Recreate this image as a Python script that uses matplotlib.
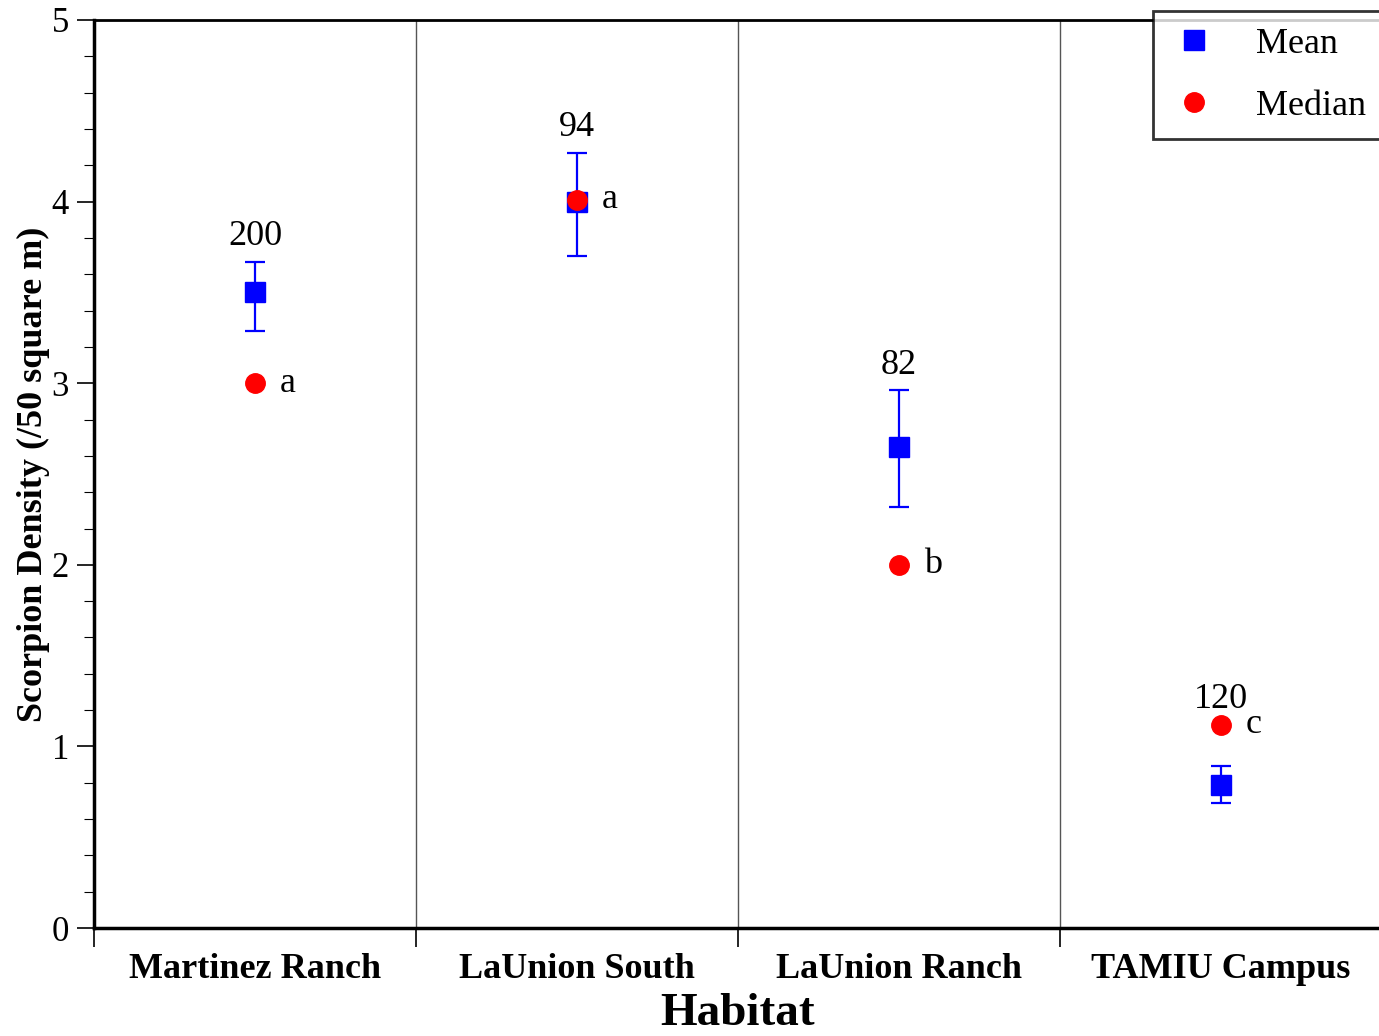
import matplotlib.pyplot as plt
from matplotlib.ticker import MultipleLocator
from matplotlib.lines import Line2D

habitats = ["Martinez Ranch", "LaUnion South", "LaUnion Ranch", "TAMIU Campus"]
means = [3.50, 4.00, 2.65, 0.79]
err_low = [3.29, 3.70, 2.32, 0.69]
err_high = [3.67, 4.27, 2.96, 0.89]
medians = [3.00, 4.01, 2.00, 1.12]
counts = ["200", "94", "82", "120"]
letters = ["a", "a", "b", "c"]

plt.rcParams['font.family'] = ['Liberation Serif', 'DejaVu Serif']

fig = plt.figure(figsize=(13.79, 10.36), dpi=100)
ax = fig.add_axes([0.0682, 0.1042, 0.9338, 0.8765])

x = list(range(len(habitats)))
yerr = [[m - lo for m, lo in zip(means, err_low)],
        [hi - m for m, hi in zip(means, err_high)]]

ax.errorbar(x, means, yerr=yerr, fmt='s', color='#0000ff', ecolor='#0000ff',
            markersize=14, elinewidth=1.6, capsize=7, capthick=1.6, zorder=3)
ax.plot(x, medians, 'o', color='#ff0000', markersize=14, zorder=4, linestyle='none')

for i in x:
    top = max(err_high[i], medians[i])
    ax.annotate(counts[i], (i, top), xytext=(0, 18), textcoords='offset points',
                ha='center', va='center', fontsize=26)
    ax.annotate(letters[i], (i, medians[i]), xytext=(18, 0), textcoords='offset points',
                ha='left', va='center', fontsize=26)

for b in [0.5, 1.5, 2.5]:
    ax.axvline(b, color='#555555', lw=1.0, zorder=1)

ax.set_xlim(-0.5, 3.5)
ax.set_ylim(0, 5)

ax.set_xticks([-0.5, 0.5, 1.5, 2.5])
ax.set_xticklabels([])
ax.tick_params(axis='x', which='major', length=14, width=1.2, direction='out')
ax.set_xticks(x, minor=True)
ax.set_xticklabels(habitats, minor=True, fontsize=26, fontweight='bold')
ax.tick_params(axis='x', which='minor', length=0, pad=18)

ax.yaxis.set_major_locator(MultipleLocator(1))
ax.yaxis.set_minor_locator(MultipleLocator(0.2))
ax.tick_params(axis='y', which='major', length=12, width=1.2, labelsize=25, pad=6)
ax.tick_params(axis='y', which='minor', length=7, width=0.8)

for side in ['left', 'bottom']:
    ax.spines[side].set_linewidth(2.5)
ax.spines['top'].set_linewidth(2.0)
ax.spines['right'].set_linewidth(2.0)

ax.set_ylabel("Scorpion Density (/50 square m)", fontsize=26, fontweight='bold', labelpad=1)
ax.set_xlabel("Habitat", fontsize=34, fontweight='bold', labelpad=5)

handles = [Line2D([], [], marker='s', color='#0000ff', linestyle='none', markersize=14),
           Line2D([], [], marker='o', color='#ff0000', linestyle='none', markersize=14)]
leg = ax.legend(handles, ["Mean", "Median"], loc='upper right',
                bbox_to_anchor=(1.002, 0.989), bbox_transform=fig.transFigure,
                fontsize=26, frameon=True, fancybox=False, edgecolor='black',
                borderpad=0.45, handletextpad=1.0, labelspacing=0.8, borderaxespad=0,
                handlelength=1.4)
leg.get_frame().set_linewidth(2.0)
leg.set_zorder(10)

fig.savefig("out.png", dpi=100)
